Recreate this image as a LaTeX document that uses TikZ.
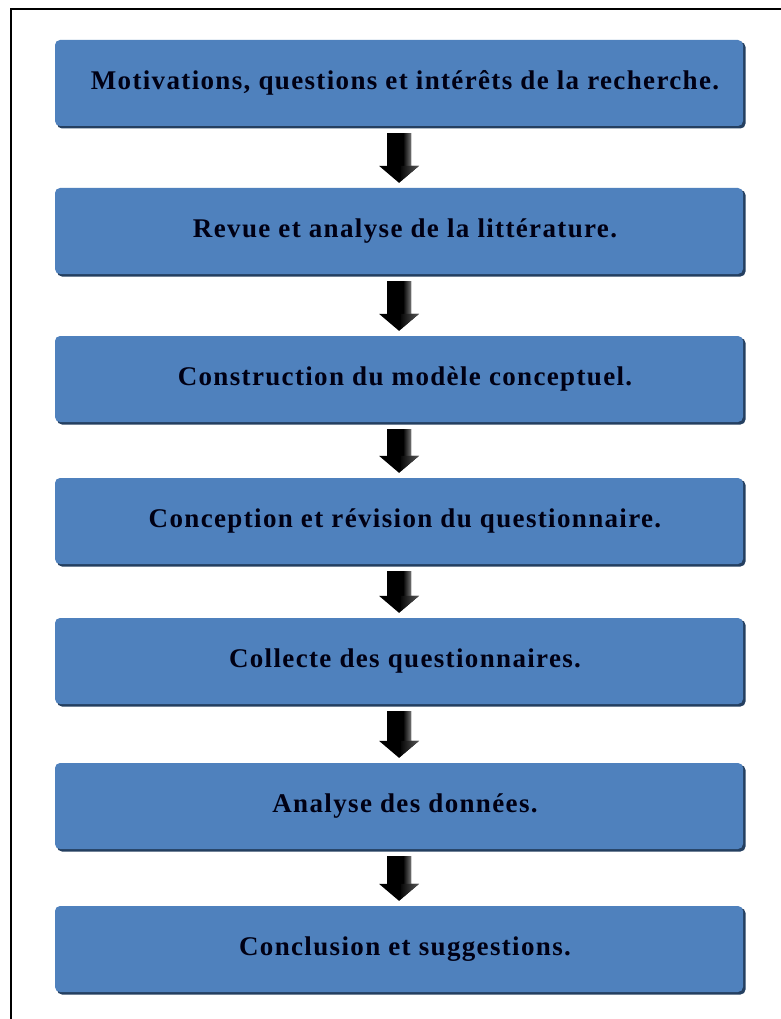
\documentclass[tikz,border=0pt]{standalone}
\usepackage{fontspec}
\setmainfont{Liberation Serif}
\newfontfamily\stepfont[LetterSpace=5]{Liberation Serif}
\usetikzlibrary{calc}
\definecolor{boxblue}{HTML}{4F81BD}
\definecolor{boxedge}{HTML}{243F60}
\tikzset{
  stepbox/.style={minimum width=688pt, minimum height=86pt, inner sep=0pt,
    rounded corners=5pt, fill=boxblue,
    font=\stepfont\bfseries\fontsize{27}{32}\selectfont,
    text=black!92!blue, execute at begin node={\hspace*{12pt}}},
  boxshadow/.style={fill=boxedge, rounded corners=5pt},
  arrowfill/.style={fill=black},
  frameline/.style={line width=2.5pt, black}
}
% block arrow between two steps
\newcommand\flowarrow[2]{%
  \path[arrowfill] let \p1=($(#1.south)+(0,7)$), \p2=($(#2.north)+(0,-5)$) in
    (\x1-12pt,\y1) -- (\x1+12pt,\y1) -- (\x1+12pt,\y2+17pt) -- (\x1+20pt,\y2+17pt)
    -- (\x1,\y2) -- (\x1-20pt,\y2+17pt) -- (\x1-12pt,\y2+17pt) -- cycle;
  \path[left color=black, right color=black!55] let \p1=($(#1.south)+(0,7)$), \p2=($(#2.north)+(0,-5)$) in
    (\x1+4pt,\y1) rectangle (\x1+12pt,\y2+17pt);
  \path[left color=black, right color=black!65] let \p1=($(#1.south)+(0,7)$), \p2=($(#2.north)+(0,-5)$) in
    (\x1+2pt,\y2+17pt) -- (\x1+20pt,\y2+17pt) -- (\x1,\y2) -- (\x1+2pt, \y2+2pt) -- cycle;
}
\begin{document}
\begin{tikzpicture}[x=1pt, y=-1pt]
  \useasboundingbox (0,0) rectangle (780,1019);
  \fill[white] (0,0) rectangle (780,1019);
  % outer frame (only left and top edges fall inside the page)
  \draw[frameline] (11,1025) -- (11,9) -- (790,9);

  % step shadows
  \foreach \y in {83,231,379,521,661,806,949}
    \fill[boxshadow] (57,\y-41) rectangle (745.5,\y+45.5);

  \node[stepbox] (b1) at (399,83)  {Motivations, questions et intérêts de la recherche.};
  \node[stepbox] (b2) at (399,231) {Revue et analyse de la littérature.};
  \node[stepbox] (b3) at (399,379) {Construction du modèle conceptuel.};
  \node[stepbox] (b4) at (399,521) {Conception et révision du questionnaire.};
  \node[stepbox] (b5) at (399,661) {Collecte des questionnaires.};
  \node[stepbox] (b6) at (399,806) {Analyse des données.};
  \node[stepbox] (b7) at (399,949) {Conclusion et suggestions.};

  \flowarrow{b1}{b2}
  \flowarrow{b2}{b3}
  \flowarrow{b3}{b4}
  \flowarrow{b4}{b5}
  \flowarrow{b5}{b6}
  \flowarrow{b6}{b7}
\end{tikzpicture}
\end{document}
